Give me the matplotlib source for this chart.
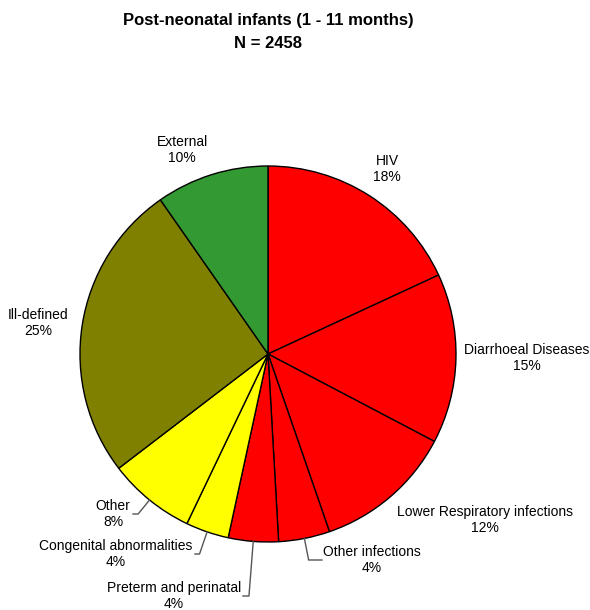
import numpy as np
import matplotlib.pyplot as plt

plt.rcParams['font.family'] = ['Liberation Sans', 'DejaVu Sans']

# Datos del gráfico (proporciones)
causes = ["HIV", "Diarrhoeal Diseases", "Lower Respiratory infections",
          "Other infections", "Preterm and perinatal", "Congenital abnormalities",
          "Other", "Ill-defined", "External"]
shares = [18.1, 14.6, 12.0, 4.4, 4.3, 3.7, 7.5, 25.7, 9.7]
pct_labels = ["18%", "15%", "12%", "4%", "4%", "4%", "8%", "25%", "10%"]
colors = ["#FF0000", "#FF0000", "#FF0000", "#FF0000", "#FF0000",
          "#FFFF00", "#FFFF00", "#808000", "#339933"]

# Posición de las etiquetas en píxeles (centro del bloque de texto)
label_px = [(387, 169), (527, 358), (485, 520), (372, 560), (174, 596),
            (116, 554), (113, 514), (38, 323), (182, 150)]
# Etiquetas con línea guía: índice -> x final de la línea (px)
leader_end_x = {3: 322, 4: 243, 5: 195, 6: 133}

W, H = 590, 610
CX, CY, R = 268, 354, 188


def px(x, y):
    return (x - CX) / R, (CY - y) / R


fig = plt.figure(figsize=(W / 100, H / 100), dpi=100)
ax = fig.add_axes([0, 0, 1, 1])

wedges, _ = ax.pie(shares, colors=colors, startangle=90, counterclock=False,
                   radius=1, center=(0, 0),
                   wedgeprops=dict(edgecolor='black', linewidth=1))

for i, w in enumerate(wedges):
    lx, ly = px(*label_px[i])
    ax.text(lx, ly, causes[i] + "\n" + pct_labels[i], ha='center', va='center',
            fontsize=10, linespacing=1.25)
    if i in leader_end_x:
        ang = np.deg2rad((w.theta1 + w.theta2) / 2)
        sx, sy = np.cos(ang), np.sin(ang)
        t = ly / sy
        ex, _ = px(leader_end_x[i], 0)
        ax.plot([sx, sx * t, ex], [sy, ly, ly], color='#555555', lw=1)

ax.set_xlim(-CX / R, (W - CX) / R)
ax.set_ylim((CY - H) / R, CY / R)
ax.set_aspect('auto')
ax.axis('off')

fig.text(CX / W, 1 - 20 / H, "Post-neonatal infants (1 - 11 months)",
         ha='center', va='center', fontsize=12, fontweight='bold')
fig.text(CX / W, 1 - 43 / H, "N = 2458",
         ha='center', va='center', fontsize=12, fontweight='bold')

plt.savefig('out.png', dpi=100)
